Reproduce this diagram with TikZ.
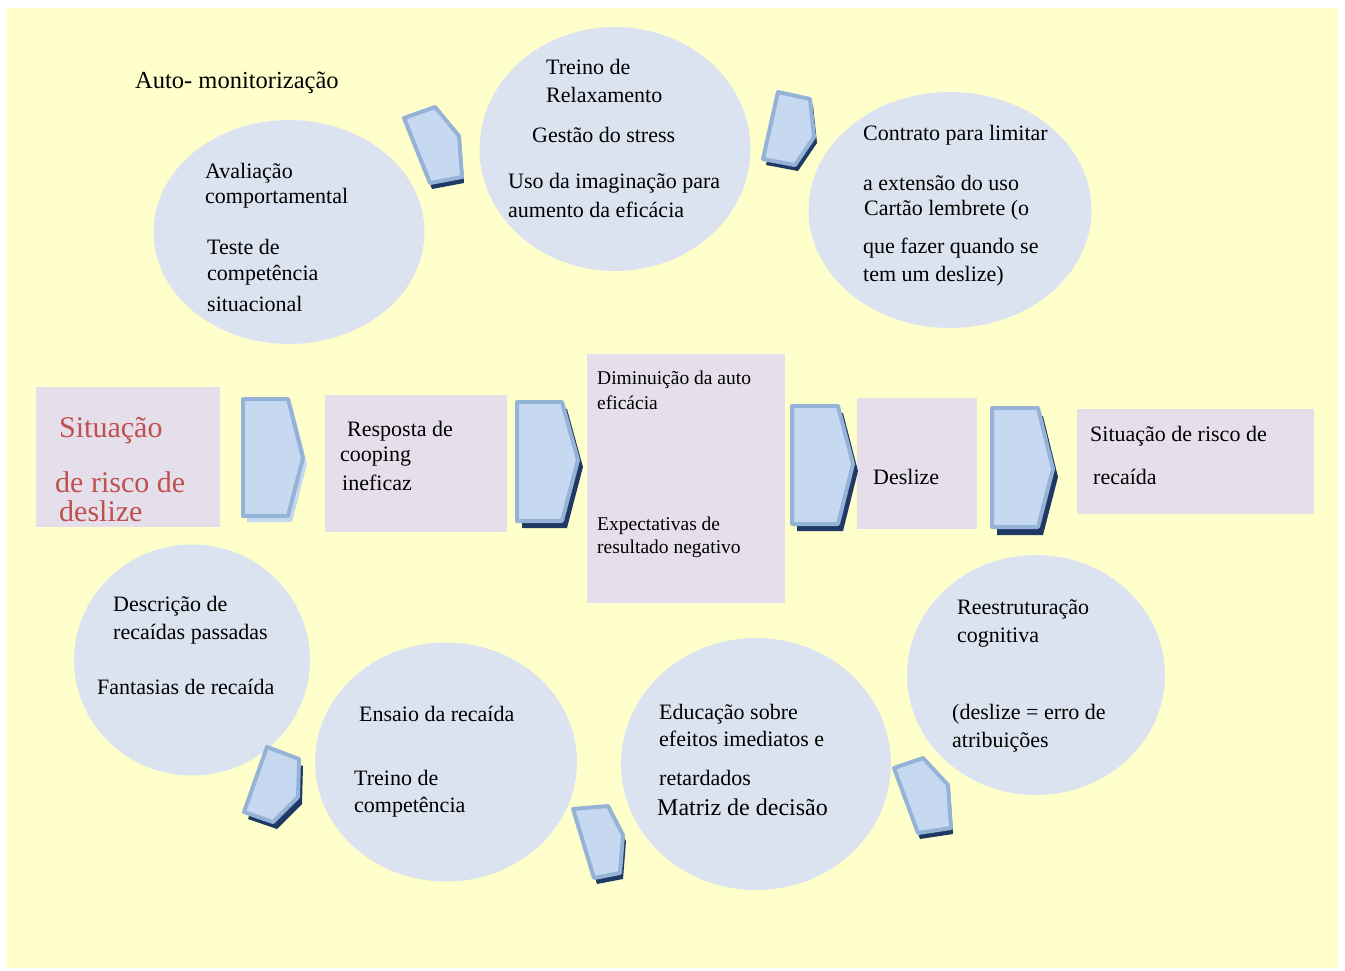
\documentclass[tikz,border=0pt]{standalone}
\usepackage{fontspec}
\setmainfont{Liberation Serif}
\usetikzlibrary{shapes.geometric}
\definecolor{paper}{HTML}{FFFFCC}
\definecolor{bubblefill}{HTML}{DCE3F0}
\definecolor{boxfill}{HTML}{E5DFEC}
\definecolor{chevfill}{HTML}{C6D9F1}
\definecolor{chevline}{HTML}{95B3D7}
\definecolor{chevshadow}{HTML}{1F3864}
\definecolor{alertred}{HTML}{C0504D}
\begin{document}
\begin{tikzpicture}[x=1pt,y=-1pt,
  bubble/.style={ellipse,fill=bubblefill,inner sep=0pt},
  stagebox/.style={rectangle,fill=boxfill,inner sep=0pt,anchor=north west},
  txt/.style={anchor=west,inner sep=0pt,yshift=-2pt,font=\fontsize{22}{26}\selectfont},
  smalltxt/.style={txt,font=\fontsize{19.5}{23}\selectfont},
  redtxt/.style={txt,text=alertred,font=\fontsize{30}{34}\selectfont},
  chev/.style={fill=chevfill,draw=chevline,line width=4pt,line join=round},
  chevdark/.style={fill=chevshadow},
  chevlight/.style={fill=chevfill}]
\useasboundingbox (0,0) rectangle (1345,970);
\fill[paper] (7,8) rectangle (1338,968);

% strategy bubbles
\node[bubble,minimum width=271,minimum height=224] (avaliacao) at (289,232) {};
\node[bubble,minimum width=271,minimum height=244] (treino) at (615,149) {};
\node[bubble,minimum width=283,minimum height=236] (contrato) at (950,210) {};
\node[bubble,minimum width=236,minimum height=231] (descricao) at (192,660) {};
\node[bubble,minimum width=262,minimum height=239] (ensaio) at (446,762) {};
\node[bubble,minimum width=270,minimum height=252] (educacao) at (756,764) {};
\node[bubble,minimum width=258,minimum height=240] (reestrut) at (1036,675) {};

% relapse process stages
\node[stagebox,minimum width=184,minimum height=140] (situacao) at (36,387) {};
\node[stagebox,minimum width=182,minimum height=137] (resposta) at (325,395) {};
\node[stagebox,minimum width=198,minimum height=249] (diminuicao) at (587,354) {};
\node[stagebox,minimum width=120,minimum height=131] (deslize) at (857,398) {};
\node[stagebox,minimum width=237,minimum height=105] (recaida) at (1077,409) {};

% chevrons along the main row
\fill[chevlight,shift={(4,6)}] (243,399)--(288,399)--(303,458)--(288,516)--(243,516)--cycle;
\draw[chev] (243,399)--(288,399)--(303,458)--(288,516)--(243,516)--cycle;

\fill[chevdark,shift={(5,7)}] (517,402)--(562,402)--(578,460)--(562,521)--(517,521)--cycle;
\draw[chev] (517,402)--(562,402)--(578,460)--(562,521)--(517,521)--cycle;

\fill[chevdark,shift={(5,7)}] (792,406)--(838,406)--(853,464)--(838,524)--(792,524)--cycle;
\draw[chev] (792,406)--(838,406)--(853,464)--(838,524)--(792,524)--cycle;

\fill[chevlight,shift={(0,-2)}] (992,408)--(1038,408)--(1053,469)--(1038,527)--(992,527)--cycle;
\fill[chevdark,shift={(5,8)}] (992,408)--(1038,408)--(1053,469)--(1038,527)--(992,527)--cycle;
\draw[chev] (992,408)--(1038,408)--(1053,469)--(1038,527)--(992,527)--cycle;

% tilted chevrons between the bubbles
\fill[chevdark,shift={(2,6)}] (404,118)--(435,107)--(459,136)--(462,177)--(430,183)--cycle;
\draw[chev] (404,118)--(435,107)--(459,136)--(462,177)--(430,183)--cycle;

\fill[chevdark,shift={(3,6)}] (778,92)--(810,99)--(814,137)--(795,165)--(763,159)--cycle;
\draw[chev] (778,92)--(810,99)--(814,137)--(795,165)--(763,159)--cycle;

\fill[chevdark,shift={(4,7)}] (267,747)--(299,759)--(298,797)--(273,822)--(244,812)--cycle;
\draw[chev] (267,747)--(299,759)--(298,797)--(273,822)--(244,812)--cycle;

\fill[chevdark,shift={(3,6)}] (573,809)--(608,806)--(623,835)--(620,873)--(594,878)--cycle;
\draw[chev] (573,809)--(608,806)--(623,835)--(620,873)--(594,878)--cycle;

\fill[chevdark,shift={(2,6)}] (894,768)--(923,758)--(948,785)--(951,828)--(918,833)--cycle;
\draw[chev] (894,768)--(923,758)--(948,785)--(951,828)--(918,833)--cycle;

% labels
\node[txt,font=\fontsize{24.5}{28}\selectfont] (l0) at (135,81) {Auto- monitorização};

\node[txt] (l1a) at (205,171) {Avaliação};
\node[txt] (l1b) at (205,196) {comportamental};
\node[txt] (l1c) at (207,245) {Teste de};
\node[txt] (l1d) at (207,273) {competência};
\node[txt] (l1e) at (207,302) {situacional};

\node[txt] (l2a) at (546,65) {Treino de};
\node[txt] (l2b) at (546,93) {Relaxamento};
\node[txt] (l2c) at (532,133) {Gestão do stress};
\node[txt] (l2d) at (508,181) {Uso da imaginação para};
\node[txt] (l2e) at (508,208) {aumento da eficácia};

\node[txt] (l3a) at (863,133) {Contrato para limitar};
\node[txt] (l3b) at (863,181) {a extensão do uso};
\node[txt] (l3c) at (864,208) {Cartão lembrete (o};
\node[txt] (l3d) at (863,246) {que fazer quando se};
\node[txt] (l3e) at (863,274) {tem um deslize)};

\node[redtxt] (sa) at (59,429) {Situação};
\node[redtxt] (sb) at (55,480) {de risco de};
\node[redtxt] (sc) at (59,509) {deslize};

\node[txt] (ra) at (347,429) {Resposta de};
\node[txt] (rb) at (340,455) {cooping};
\node[txt] (rc) at (342,481) {ineficaz};

\node[smalltxt] (da) at (597,378) {Diminuição da auto};
\node[smalltxt] (db) at (597,401) {eficácia};
\node[smalltxt] (dc) at (597,524) {Expectativas de};
\node[smalltxt] (dd) at (597,547) {resultado negativo};

\node[txt] (dl) at (873,475) {Deslize};

\node[txt] (ea) at (1090,434) {Situação de risco de};
\node[txt] (eb) at (1093,475) {recaída};

\node[txt] (l4a) at (113,604) {Descrição de};
\node[txt] (l4b) at (113,632) {recaídas passadas};
\node[txt] (l4c) at (97,685) {Fantasias de recaída};

\node[txt] (l5a) at (359,712) {Ensaio da recaída};
\node[txt] (l5b) at (354,776) {Treino de};
\node[txt] (l5c) at (354,805) {competência};

\node[txt] (l6a) at (659,712) {Educação sobre};
\node[txt] (l6b) at (659,737) {efeitos imediatos e};
\node[txt] (l6c) at (659,776) {retardados};
\node[txt,font=\fontsize{24}{28}\selectfont] (l6d) at (657,805) {Matriz de decisão};

\node[txt] (l7a) at (957,607) {Reestruturação};
\node[txt] (l7b) at (957,636) {cognitiva};
\node[txt] (l7c) at (952,712) {(deslize = erro de};
\node[txt] (l7d) at (952,740) {atribuições};
\end{tikzpicture}
\end{document}
